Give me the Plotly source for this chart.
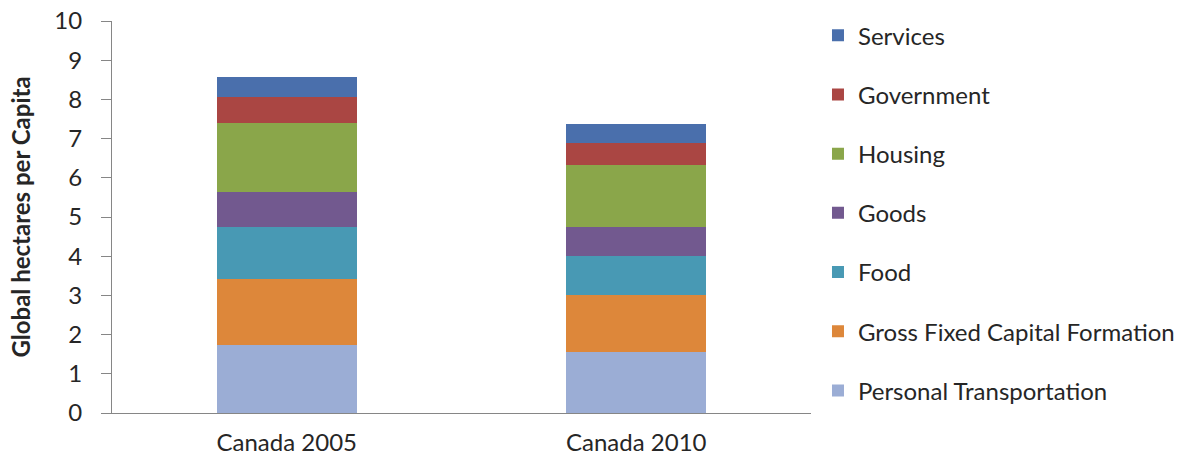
import plotly.graph_objects as go

categories = ["Canada 2005", "Canada 2010"]

series_names = [
    "Personal Transportation",
    "Gross Fixed Capital Formation",
    "Food",
    "Goods",
    "Housing",
    "Government",
    "Services",
]

personal_transportation = [1.74, 1.55]
gross_fixed_capital = [1.67, 1.46]
food = [1.34, 1.00]
goods = [0.88, 0.74]
housing = [1.76, 1.57]
government = [0.66, 0.58]
services = [0.52, 0.46]

series_values = [
    personal_transportation,
    gross_fixed_capital,
    food,
    goods,
    housing,
    government,
    services,
]

series_colors = [
    "#9BADD5",
    "#DD873A",
    "#4899B4",
    "#72598F",
    "#8AA64A",
    "#AA4643",
    "#4A6FAC",
]

y_ticks = list(range(0, 11))

FONT = "Lato, 'Open Sans', sans-serif"
TEXT_COLOR = "#262626"
AXIS_COLOR = "#868686"

fig = go.Figure()
n = len(series_names)
for i, (name, vals, color) in enumerate(zip(series_names, series_values, series_colors)):
    fig.add_trace(
        go.Bar(
            x=categories,
            y=vals,
            name=name,
            marker=dict(color=color, line=dict(width=0)),
            legendgroup=f"g{i}",
            legendrank=n - i,
        )
    )

fig.update_layout(
    barmode="stack",
    bargap=0.6,
    width=1186,
    height=460,
    margin=dict(l=112, r=375, t=21, b=47, autoexpand=False),
    paper_bgcolor="white",
    plot_bgcolor="white",
    font=dict(family=FONT, size=24, color=TEXT_COLOR),
    showlegend=True,
    legend=dict(
        traceorder="grouped",
        tracegroupgap=25,
        x=1.01,
        xanchor="left",
        y=1.02,
        yanchor="top",
        maxheight=460,
        font=dict(family=FONT, size=24, color=TEXT_COLOR),
        itemwidth=30,
        bgcolor="rgba(0,0,0,0)",
    ),
    xaxis=dict(
        showline=True,
        linecolor=AXIS_COLOR,
        linewidth=1,
        ticks="",
        showgrid=False,
        ticklabelstandoff=8,
        tickfont=dict(family=FONT, size=24, color=TEXT_COLOR),
    ),
    yaxis=dict(
        range=[0, 10],
        tickvals=y_ticks,
        ticktext=[str(v) for v in y_ticks],
        showline=True,
        linecolor=AXIS_COLOR,
        linewidth=1,
        ticks="outside",
        ticklen=10,
        tickcolor=AXIS_COLOR,
        showgrid=False,
        zeroline=False,
        ticklabelstandoff=14,
        tickfont=dict(family=FONT, size=24, color=TEXT_COLOR),
        title=dict(
            text="<b>Global hectares per Capita</b>",
            font=dict(family=FONT, size=24, color=TEXT_COLOR),
            standoff=16,
        ),
    ),
)

fig.write_html("out.html")
